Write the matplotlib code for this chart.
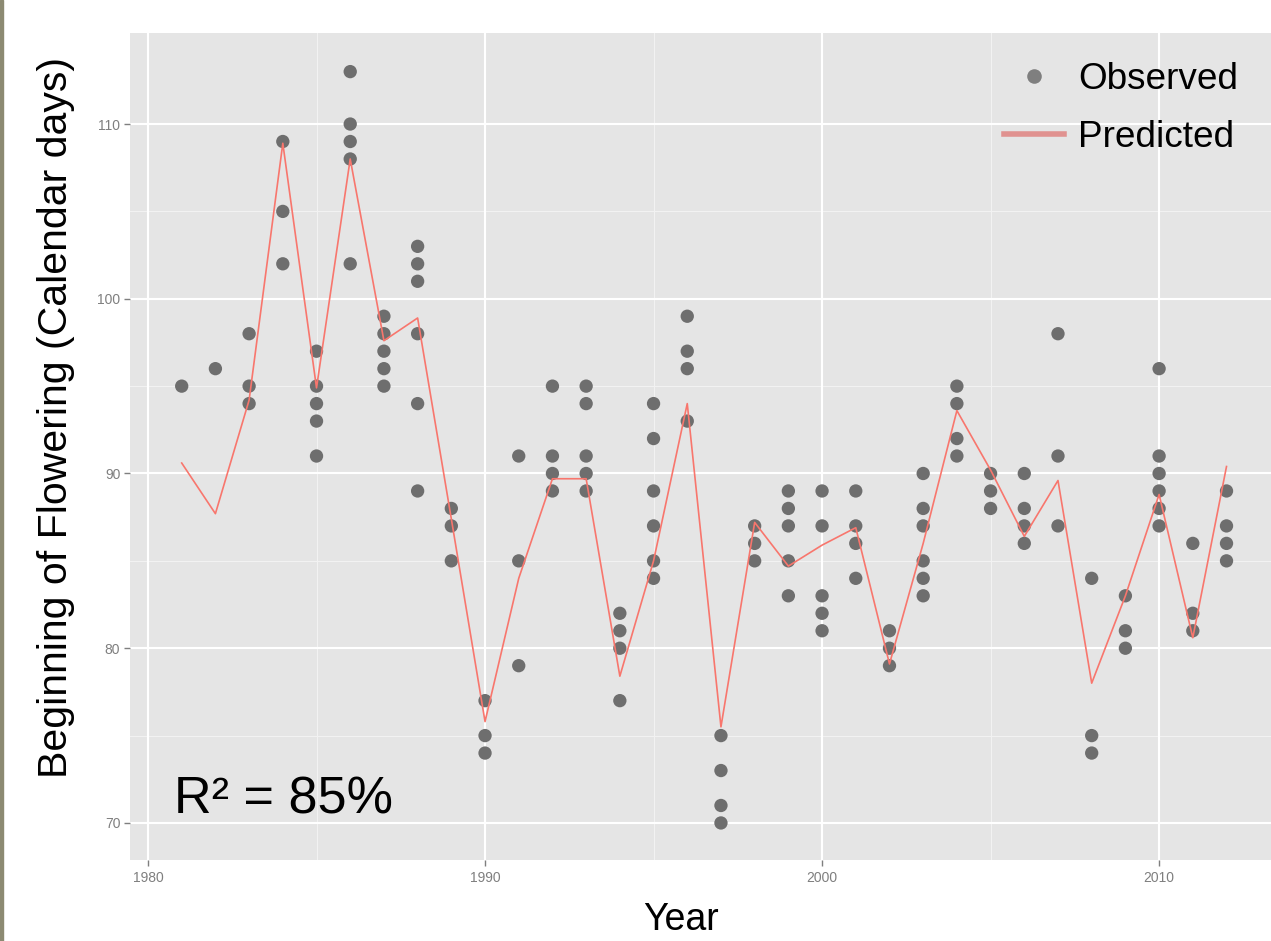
import matplotlib
matplotlib.use("Agg")
import matplotlib.pyplot as plt
from matplotlib.lines import Line2D
from matplotlib.patches import Rectangle

# ---------------- data ----------------
years = list(range(1981, 2013))
observed = [
    [95],                       # 1981
    [96],                       # 1982
    [98, 95, 94],               # 1983
    [109, 105, 102],            # 1984
    [97, 95, 94, 93, 91],       # 1985
    [113, 110, 109, 108, 102],  # 1986
    [99, 98, 97, 96, 95],       # 1987
    [103, 102, 101, 98, 94, 89],# 1988
    [88, 87, 85],               # 1989
    [77, 75, 74],               # 1990
    [91, 85, 79],               # 1991
    [95, 91, 90, 89],           # 1992
    [95, 94, 91, 90, 89],       # 1993
    [82, 81, 80, 77],           # 1994
    [94, 92, 89, 87, 85, 84],   # 1995
    [99, 97, 96, 93],           # 1996
    [75, 73, 71, 70],           # 1997
    [87, 86, 85],               # 1998
    [89, 88, 87, 85, 83],       # 1999
    [89, 87, 83, 82, 81],       # 2000
    [89, 87, 86, 84],           # 2001
    [81, 80, 79],               # 2002
    [90, 88, 87, 85, 84, 83],   # 2003
    [95, 94, 92, 91],           # 2004
    [90, 89, 88],               # 2005
    [90, 88, 87, 86],           # 2006
    [98, 91, 87],               # 2007
    [84, 75, 74],               # 2008
    [83, 81, 80],               # 2009
    [96, 91, 90, 89, 88, 87],   # 2010
    [86, 82, 81],               # 2011
    [89, 87, 86, 85],           # 2012
]
predicted = [90.6, 87.7, 94.2, 108.9, 94.9, 108.0, 97.6, 98.9, 87.4, 75.8,
             84.0, 89.7, 89.7, 78.4, 85.0, 94.0, 75.5, 87.2, 84.7, 85.9,
             86.9, 79.1, 86.0, 93.6, 90.2, 86.4, 89.6, 78.0, 83.0, 88.8,
             80.6, 90.4]
x_ticks = [1980, 1990, 2000, 2010]
y_ticks = [70, 80, 90, 100, 110]
x_label = "Year"
y_label = "Beginning of Flowering (Calendar days)"
annotation = "R² = 85%"
legend_labels = ["Observed", "Predicted"]

obs_x = [y for y, vals in zip(years, observed) for _ in vals]
obs_y = [v for vals in observed for v in vals]

# ---------------- figure ----------------
W, H = 1271, 941
plt.rcParams['font.family'] = ['Liberation Sans', 'DejaVu Sans']
fig = plt.figure(figsize=(W / 100, H / 100), dpi=100)
fig.patch.set_facecolor('white')

left, right, top, bottom = 130, 1271, 33, 860
ax = fig.add_axes([left / W, 1 - bottom / H, (right - left) / W, (bottom - top) / H])
ax.set_facecolor('#E5E5E5')
ax.set_xlim(1979.466, 2013.32)
ax.set_ylim(67.88, 115.21)

# grid
for v in [1985, 1995, 2005]:
    ax.axvline(v, color='#F2F2F2', lw=0.8, zorder=0.5)
for v in [75, 85, 95, 105]:
    ax.axhline(v, color='#F2F2F2', lw=0.8, zorder=0.5)
ax.set_xticks(x_ticks)
ax.set_yticks(y_ticks)
ax.grid(True, which='major', color='white', lw=1.5, zorder=0.6)
ax.set_axisbelow(True)
for s in ax.spines.values():
    s.set_visible(False)
ax.tick_params(axis='both', colors='#7F7F7F', labelsize=10, length=4, width=1)
ax.tick_params(axis='x', pad=4)
ax.tick_params(axis='y', pad=3)

# data
ax.scatter(obs_x, obs_y, s=92, color='#6E6E6E', edgecolors='none', zorder=3)
ax.plot(years, predicted, color='#F8766D', lw=1.2, zorder=4)

# labels
fig.text(56 / W, 1 - 417 / H, y_label, rotation=90, ha='center', va='center',
         fontsize=29.5, color='black')
fig.text(681 / W, 1 - 920 / H, x_label, ha='center', va='center',
         fontsize=27, color='black')
fig.text(174 / W, 1 - 813 / H, annotation, ha='left', va='baseline',
         fontsize=37.5, color='black')

# legend
handles = [
    Line2D([], [], ls='none', marker='o', markersize=10.5, color='#7F7F7F', markeredgecolor='none'),
    Line2D([], [], color='#E09290', lw=4),
]
leg = fig.legend(handles, legend_labels, loc='upper left',
                 bbox_to_anchor=(1004 / W, 1 - 62 / H), frameon=False,
                 fontsize=26.6, handlelength=1.62, handletextpad=0.38,
                 labelspacing=0.62, borderpad=0, borderaxespad=0)

# left edge strip
fig.patches.append(Rectangle((0, 0), 3 / W, 1, transform=fig.transFigure,
                             color='#8C8A72', zorder=10))

fig.savefig("out.png", dpi=100)
